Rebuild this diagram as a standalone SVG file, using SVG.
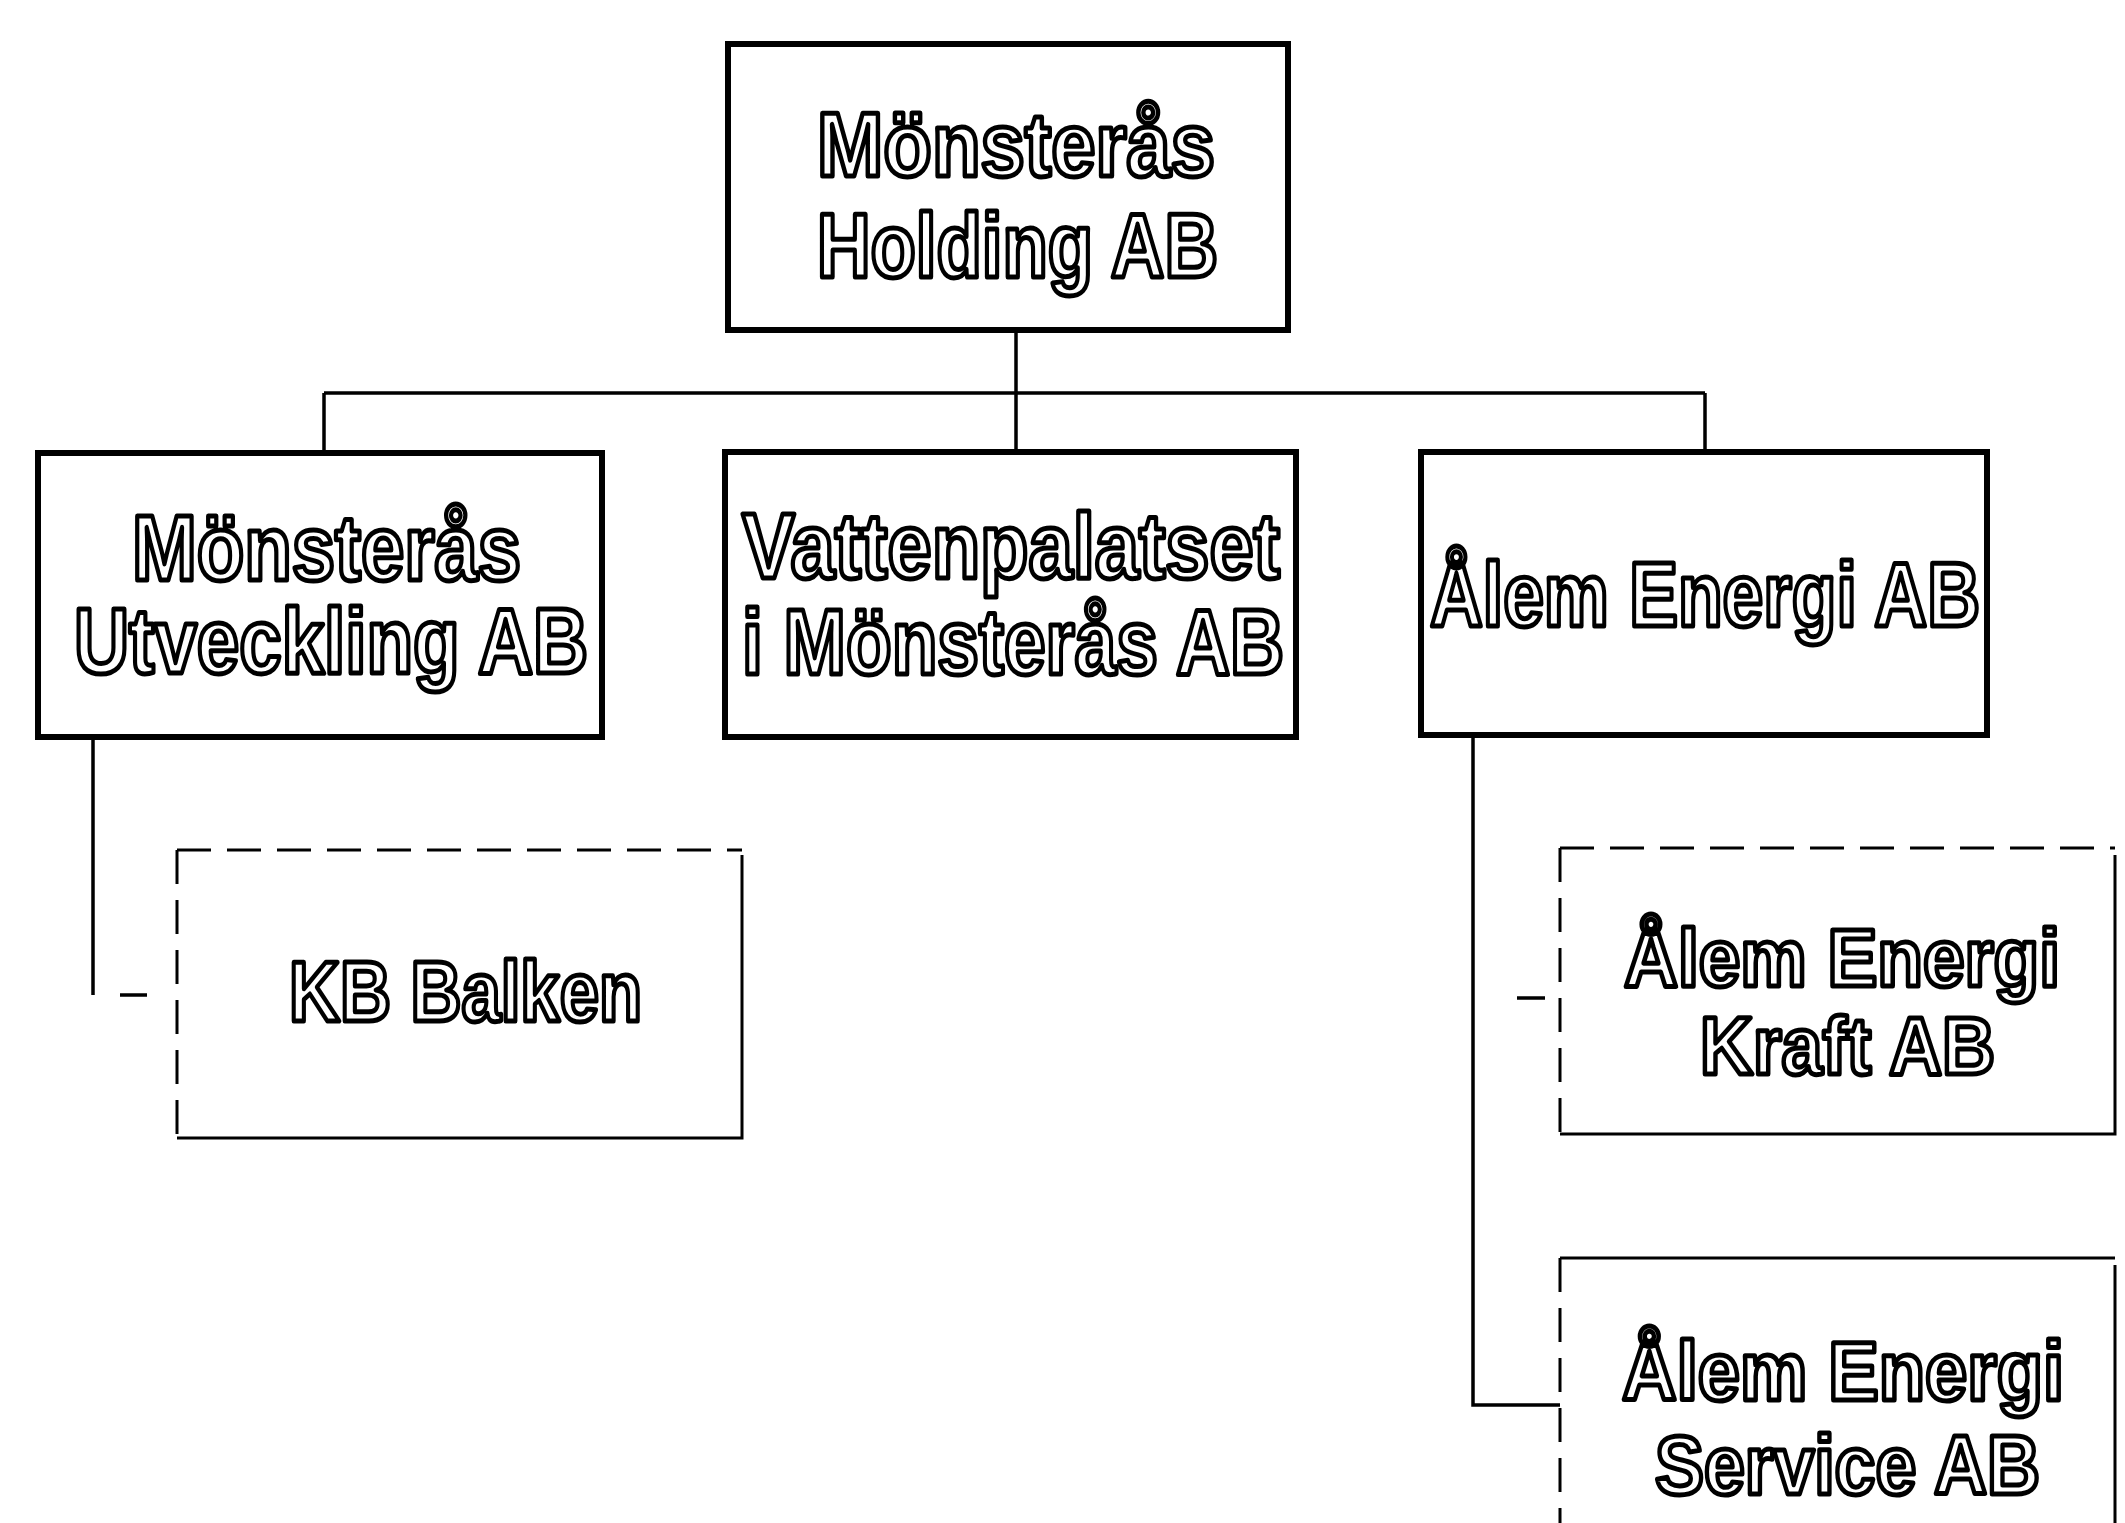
<svg xmlns="http://www.w3.org/2000/svg" width="2125" height="1523" viewBox="0 0 2125 1523">
<style>
.box{fill:#fff;stroke:#000;stroke-width:6}
.sub{fill:#fff;stroke:none}
.edge{fill:none;stroke:#000;stroke-width:3}
.dash{fill:none;stroke:#000;stroke-width:3;stroke-dasharray:34 16}
.lbl{font-family:"Liberation Sans",Arial,sans-serif;font-weight:bold;fill:#fff;stroke:#000;stroke-width:5;stroke-linejoin:round}
.con{fill:none;stroke:#000;stroke-width:3.5}
</style>
<rect width="2125" height="1523" fill="#fff"/>
<g id="connectors">
<path class="con" d="M1016 330V393M324 393H1705M324 393V453M1016 393V452M1705 393V452"/>
<path class="con" d="M93 737V995M120 995H147"/>
<path class="con" d="M1473 737V1405H1560M1517 998H1545"/>
</g>
<g id="holding">
<rect class="box" x="728" y="44" width="560" height="286"/>
<text class="lbl" x="817" y="176" font-size="90" textLength="398" lengthAdjust="spacingAndGlyphs">Mönsterås</text>
<text class="lbl" x="817" y="277" font-size="90" textLength="401" lengthAdjust="spacingAndGlyphs">Holding AB</text>
</g>
<g id="utveckling">
<rect class="box" x="38" y="453" width="564" height="284"/>
<text class="lbl" x="132" y="580" font-size="92" textLength="389" lengthAdjust="spacingAndGlyphs">Mönsterås</text>
<text class="lbl" x="74" y="673" font-size="92" textLength="514" lengthAdjust="spacingAndGlyphs">Utveckling AB</text>
</g>
<g id="vattenpalatset">
<rect class="box" x="725" y="452" width="571" height="285"/>
<text class="lbl" x="742" y="578" font-size="92" textLength="538" lengthAdjust="spacingAndGlyphs">Vattenpalatset</text>
<text class="lbl" x="742" y="674" font-size="92" textLength="542" lengthAdjust="spacingAndGlyphs">i Mönsterås AB</text>
</g>
<g id="alem-energi">
<rect class="box" x="1421" y="452" width="566" height="283"/>
<text class="lbl" x="1430" y="626" font-size="90" textLength="550" lengthAdjust="spacingAndGlyphs">Ålem Energi AB</text>
</g>
<g id="kb-balken">
<rect class="sub" x="177" y="850" width="565" height="288"/>
<path class="dash" d="M177 850H742"/>
<path class="dash" d="M177 850V1138" stroke-dasharray="20 6"/>
<path class="edge" d="M742 855V1138H177"/>
<text class="lbl" x="289" y="1021" font-size="86" textLength="353" lengthAdjust="spacingAndGlyphs">KB Balken</text>
</g>
<g id="alem-kraft">
<rect class="sub" x="1560" y="848" width="555" height="286"/>
<path class="dash" d="M1560 848H2115"/>
<path class="dash" d="M1560 848V1134" stroke-dasharray="20 6"/>
<path class="edge" d="M2115 855V1134H1560"/>
<text class="lbl" x="1624" y="986" font-size="82" textLength="436" lengthAdjust="spacingAndGlyphs">Ålem Energi</text>
<text class="lbl" x="1700" y="1074" font-size="82" textLength="295" lengthAdjust="spacingAndGlyphs">Kraft AB</text>
</g>
<g id="alem-service">
<rect class="sub" x="1560" y="1258" width="555" height="290"/>
<path class="edge" d="M1560 1258H2115"/>
<path class="dash" d="M1560 1258V1523" stroke-dasharray="20 6"/>
<path class="edge" d="M2115 1265V1523"/>
<text class="lbl" x="1622" y="1400" font-size="84" textLength="442" lengthAdjust="spacingAndGlyphs">Ålem Energi</text>
<text class="lbl" x="1655" y="1494" font-size="84" textLength="385" lengthAdjust="spacingAndGlyphs">Service AB</text>
</g>
</svg>
